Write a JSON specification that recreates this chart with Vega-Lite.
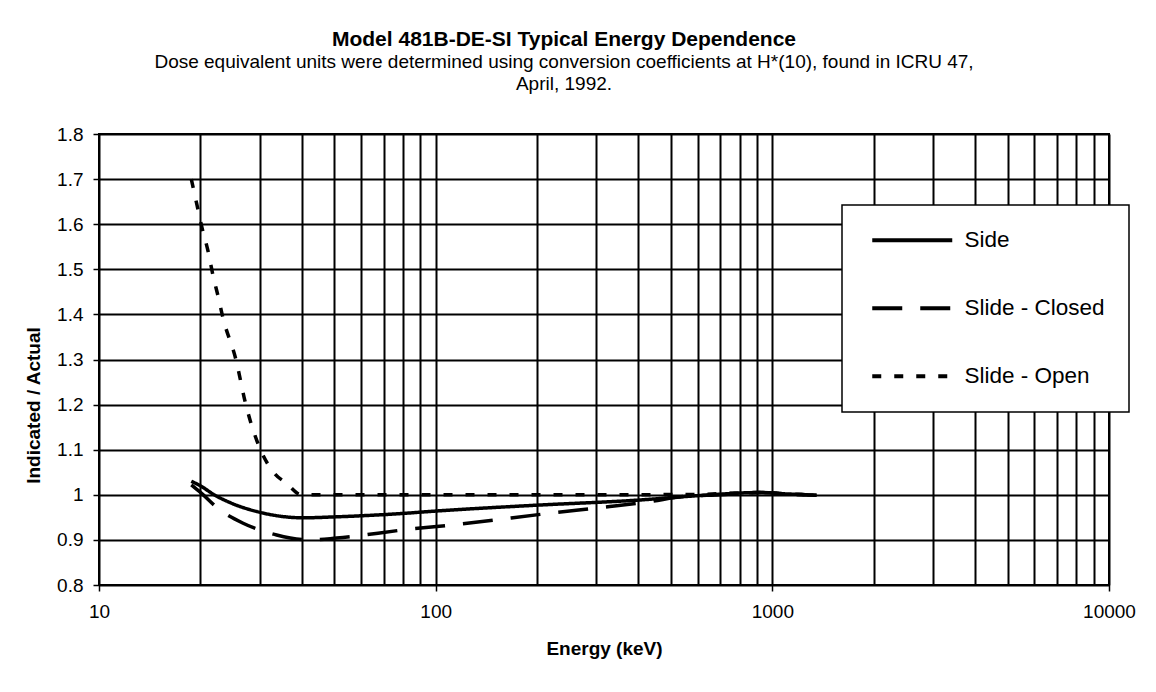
{
  "$schema": "https://vega.github.io/schema/vega-lite/v6.json",
  "width": 1010,
  "height": 451,
  "autosize": {"type": "none"},
  "padding": {"left": 99, "top": 134, "right": 47, "bottom": 107},
  "background": "white",
  "title": {
    "text": "Model 481B-DE-SI Typical Energy Dependence",
    "subtitle": ["Dose equivalent units were determined using conversion coefficients at H*(10), found in ICRU 47,", "April, 1992."],
    "anchor": "middle",
    "frame": "group",
    "dx": -40,
    "offset": 31,
    "font": "Liberation Sans",
    "fontSize": 21,
    "fontWeight": "bold",
    "color": "black",
    "subtitleFont": "Liberation Sans",
    "subtitleFontSize": 19,
    "subtitleColor": "black",
    "subtitleLineHeight": 22,
    "subtitlePadding": 3
  },
  "data": {
    "values": [
      {"series": "Side", "energy": 18.8, "ratio": 1.03},
      {"series": "Side", "energy": 20, "ratio": 1.02},
      {"series": "Side", "energy": 22, "ratio": 1.0},
      {"series": "Side", "energy": 25, "ratio": 0.98},
      {"series": "Side", "energy": 29.4, "ratio": 0.963},
      {"series": "Side", "energy": 35, "ratio": 0.952},
      {"series": "Side", "energy": 40.4, "ratio": 0.949},
      {"series": "Side", "energy": 50, "ratio": 0.951},
      {"series": "Side", "energy": 70, "ratio": 0.956},
      {"series": "Side", "energy": 110, "ratio": 0.966},
      {"series": "Side", "energy": 200, "ratio": 0.977},
      {"series": "Side", "energy": 395, "ratio": 0.988},
      {"series": "Side", "energy": 600, "ratio": 0.998},
      {"series": "Side", "energy": 919, "ratio": 1.005},
      {"series": "Side", "energy": 1100, "ratio": 1.002},
      {"series": "Side", "energy": 1353, "ratio": 0.999},
      {"series": "Slide - Closed", "energy": 18.8, "ratio": 1.022},
      {"series": "Slide - Closed", "energy": 19.9, "ratio": 1.007},
      {"series": "Slide - Closed", "energy": 22.9, "ratio": 0.966},
      {"series": "Slide - Closed", "energy": 26.8, "ratio": 0.937},
      {"series": "Slide - Closed", "energy": 33.7, "ratio": 0.911},
      {"series": "Slide - Closed", "energy": 42.4, "ratio": 0.9},
      {"series": "Slide - Closed", "energy": 50.8, "ratio": 0.904},
      {"series": "Slide - Closed", "energy": 82, "ratio": 0.923},
      {"series": "Slide - Closed", "energy": 118, "ratio": 0.935},
      {"series": "Slide - Closed", "energy": 218, "ratio": 0.959},
      {"series": "Slide - Closed", "energy": 329, "ratio": 0.974},
      {"series": "Slide - Closed", "energy": 433, "ratio": 0.985},
      {"series": "Slide - Closed", "energy": 543, "ratio": 0.996},
      {"series": "Slide - Closed", "energy": 700, "ratio": 1.0},
      {"series": "Slide - Closed", "energy": 919, "ratio": 1.005},
      {"series": "Slide - Closed", "energy": 1100, "ratio": 1.002},
      {"series": "Slide - Closed", "energy": 1353, "ratio": 0.999},
      {"series": "Slide - Open", "energy": 18.8, "ratio": 1.7},
      {"series": "Slide - Open", "energy": 19.5, "ratio": 1.646},
      {"series": "Slide - Open", "energy": 20.2, "ratio": 1.594},
      {"series": "Slide - Open", "energy": 21.1, "ratio": 1.539},
      {"series": "Slide - Open", "energy": 21.8, "ratio": 1.487},
      {"series": "Slide - Open", "energy": 22.6, "ratio": 1.439},
      {"series": "Slide - Open", "energy": 23.3, "ratio": 1.395},
      {"series": "Slide - Open", "energy": 25.5, "ratio": 1.3},
      {"series": "Slide - Open", "energy": 27.3, "ratio": 1.2},
      {"series": "Slide - Open", "energy": 29.9, "ratio": 1.107},
      {"series": "Slide - Open", "energy": 33, "ratio": 1.05},
      {"series": "Slide - Open", "energy": 36.1, "ratio": 1.025},
      {"series": "Slide - Open", "energy": 40, "ratio": 1.0},
      {"series": "Slide - Open", "energy": 100, "ratio": 1.0},
      {"series": "Slide - Open", "energy": 300, "ratio": 1.0},
      {"series": "Slide - Open", "energy": 600, "ratio": 1.001},
      {"series": "Slide - Open", "energy": 919, "ratio": 1.005},
      {"series": "Slide - Open", "energy": 1100, "ratio": 1.002},
      {"series": "Slide - Open", "energy": 1353, "ratio": 1.0}
    ]
  },
  "mark": {"type": "line", "strokeWidth": 3.5, "color": "black", "interpolate": "monotone"},
  "encoding": {
    "x": {
      "field": "energy",
      "type": "quantitative",
      "scale": {"type": "log", "domain": [10, 10000], "nice": false},
      "axis": {
        "values": [10, 20, 30, 40, 50, 60, 70, 80, 90, 100, 200, 300, 400, 500, 600, 700, 800, 900, 1000, 2000, 3000, 4000, 5000, 6000, 7000, 8000, 9000, 10000],
        "format": "d",
        "labelExpr": "indexof([10, 100, 1000, 10000], datum.value) >= 0 ? datum.label : ''",
        "tickOpacity": {"condition": {"test": "indexof([10, 100, 1000, 10000], datum.value) >= 0", "value": 1}, "value": 0},
        "grid": true,
        "gridColor": "black",
        "gridOpacity": 1,
        "gridWidth": 2,
        "domain": false,
        "ticks": true,
        "tickColor": "black",
        "tickSize": 6,
        "tickWidth": 1.5,
        "labelFont": "Liberation Sans",
        "labelFontSize": 19,
        "labelColor": "black",
        "labelPadding": 11,
        "labelFlush": false,
        "labelOverlap": false,
        "title": "Energy (keV)",
        "titleFont": "Liberation Sans",
        "titleFontSize": 19,
        "titleFontWeight": "bold",
        "titleColor": "black",
        "titlePadding": 18
      }
    },
    "y": {
      "field": "ratio",
      "type": "quantitative",
      "scale": {"domain": [0.8, 1.8], "nice": false, "zero": false},
      "axis": {
        "values": [0.8, 0.9, 1, 1.1, 1.2, 1.3, 1.4, 1.5, 1.6, 1.7, 1.8],
        "format": "~g",
        "grid": true,
        "gridColor": "black",
        "gridOpacity": 1,
        "gridWidth": 2,
        "domain": false,
        "tickColor": "black",
        "tickSize": 6,
        "tickWidth": 1.5,
        "labelFont": "Liberation Sans",
        "labelFontSize": 19,
        "labelColor": "black",
        "labelPadding": 10,
        "title": "Indicated / Actual",
        "titleFont": "Liberation Sans",
        "titleFontSize": 19,
        "titleFontWeight": "bold",
        "titleColor": "black",
        "titleX": -66,
        "titleY": 271,
        "titleBaseline": "middle",
        "titleAlign": "center"
      }
    },
    "strokeDash": {
      "field": "series",
      "type": "nominal",
      "scale": {"domain": ["Side", "Slide - Closed", "Slide - Open"], "range": [[1, 0], [30, 18], [9, 13]]},
      "legend": {
        "orient": "none",
        "legendX": 743,
        "legendY": 71,
        "title": null,
        "direction": "vertical",
        "strokeColor": "black",
        "fillColor": "white",
        "padding": 24,
        "symbolType": "M-8,0L8,0",
        "symbolSize": 100,
        "symbolStrokeWidth": 4,
        "symbolStrokeColor": "black",
        "symbolOffset": 35,
        "labelOffset": 41,
        "labelFont": "Liberation Sans",
        "labelFontSize": 22.5,
        "labelColor": "black",
        "labelLimit": 400,
        "rowPadding": 45
      }
    }
  },
  "config": {
    "view": {"stroke": "black", "strokeWidth": 2},
    "legend": {"strokeWidth": 1.5}
  }
}
